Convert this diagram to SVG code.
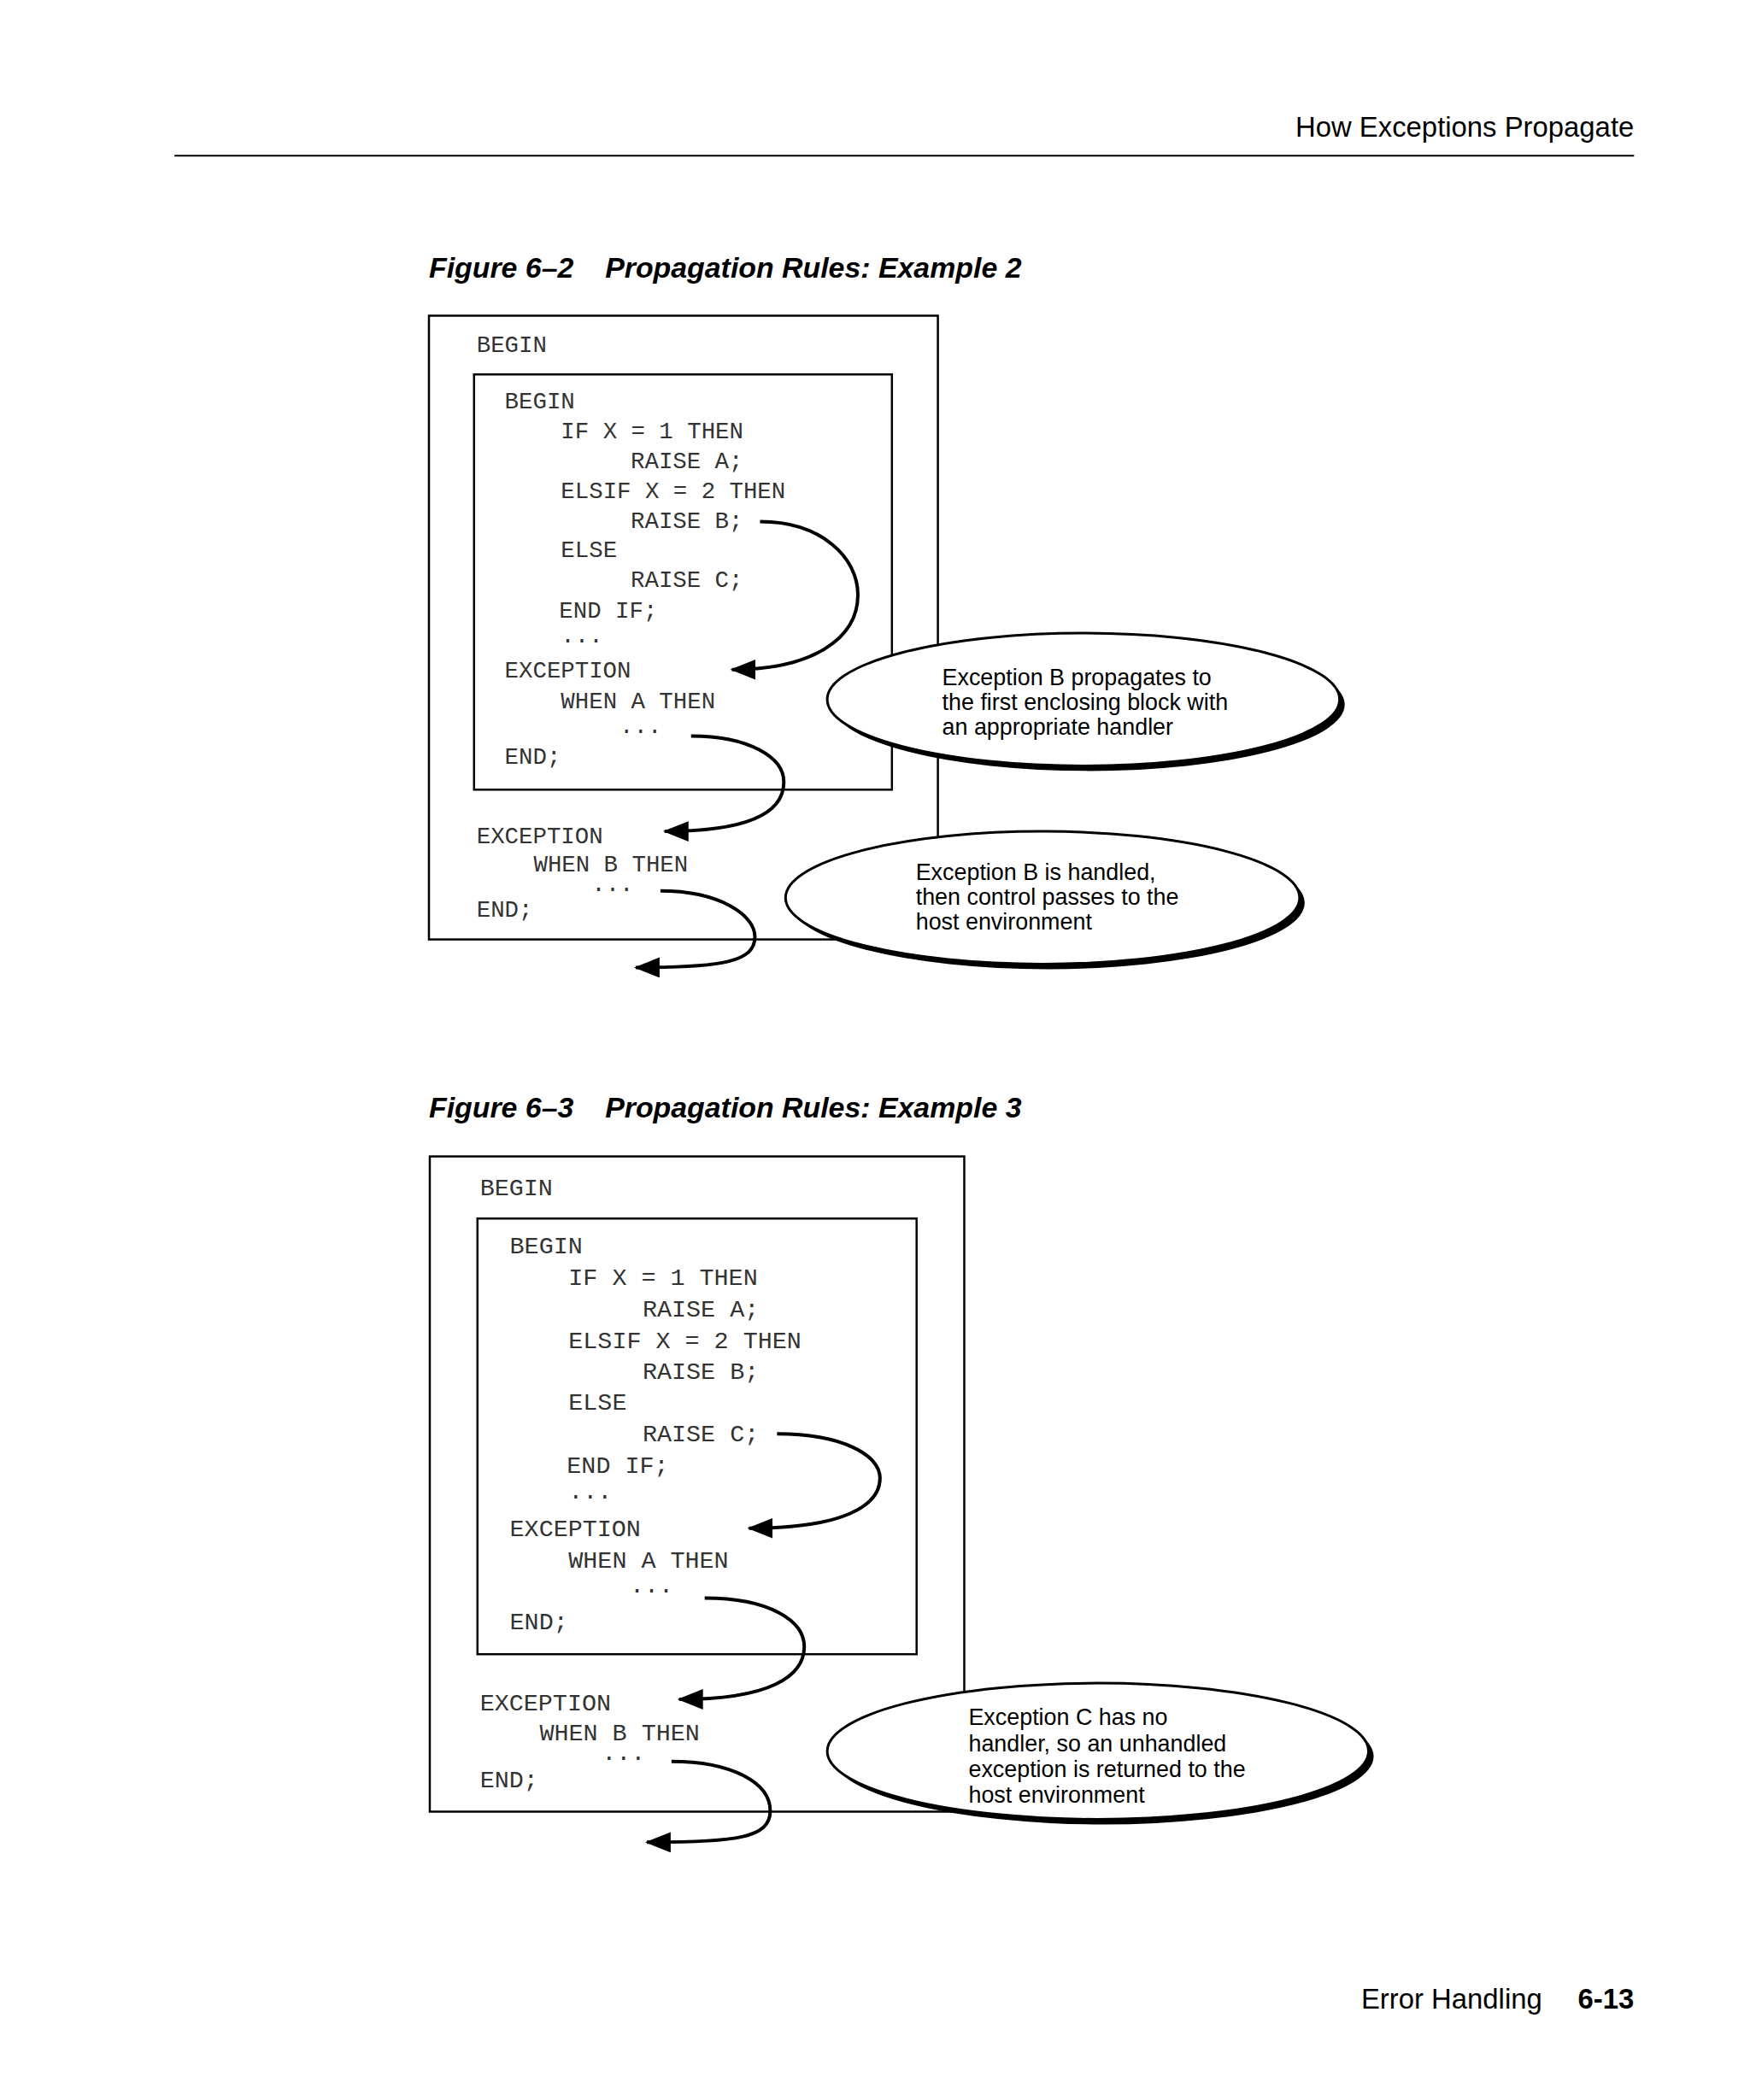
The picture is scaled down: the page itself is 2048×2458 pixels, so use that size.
<svg xmlns="http://www.w3.org/2000/svg" width="2048" height="2458" viewBox="0 0 2048 2458">
<style>
.box{fill:none;stroke:#000;stroke-width:2.5}
.c1{font-family:"Liberation Mono",monospace;font-size:27.5px;fill:#333}
.c2{font-family:"Liberation Mono",monospace;font-size:28.5px;fill:#333}
.lbl{font-family:"Liberation Sans",Arial,sans-serif;font-size:27px;fill:#000}
.arr{fill:none;stroke:#000;stroke-width:4;marker-end:url(#ah)}
.sh{fill:#000}
.el{fill:#fff;stroke:#000;stroke-width:3}
.pg{font-family:"Liberation Sans",Arial,sans-serif;font-size:33px;fill:#000}
.cap{font-family:"Liberation Sans",Arial,sans-serif;font-size:34px;font-weight:bold;font-style:italic;fill:#000}
</style>
<defs>
<marker id="ah" markerUnits="userSpaceOnUse" markerWidth="32" markerHeight="26" refX="28" refY="12" orient="auto">
<path d="M0,0 L30,12 L0,24 Z" fill="#000"/>
</marker>
</defs>
<rect width="2048" height="2458" fill="#fff"/>
<g transform="scale(0.996)">
<g id="header">
<text class="pg" x="1920" y="161" text-anchor="end">How Exceptions Propagate</text>
<line x1="205" y1="183" x2="1920" y2="183" stroke="#000" stroke-width="2"/>
</g>
<g id="caption1"><text class="cap" x="504" y="326">Figure 6–2</text><text class="cap" x="711" y="326">Propagation Rules: Example 2</text></g>
<g id="fig1-outer">
<rect class="box" x="504" y="371" width="598" height="733"/>
<text class="c1" x="560" y="414">BEGIN</text>
<text class="c1" x="560" y="991">EXCEPTION</text>
<text class="c1" x="627" y="1024">WHEN B THEN</text>
<text class="c1" x="695" y="1047">...</text>
<text class="c1" x="560" y="1077">END;</text>
</g>
<g id="fig1-inner">
<rect class="box" x="557" y="440" width="491" height="488"/>
<text class="c1" x="593" y="480">BEGIN</text>
<text class="c1" x="659" y="515">IF X = 1 THEN</text>
<text class="c1" x="741" y="550">RAISE A;</text>
<text class="c1" x="659" y="585">ELSIF X = 2 THEN</text>
<text class="c1" x="741" y="620">RAISE B;</text>
<text class="c1" x="659" y="655">ELSE</text>
<text class="c1" x="741" y="690">RAISE C;</text>
<text class="c1" x="657" y="726">END IF;</text>
<text class="c1" x="659" y="755">...</text>
<text class="c1" x="593" y="796">EXCEPTION</text>
<text class="c1" x="659" y="832">WHEN A THEN</text>
<text class="c1" x="728" y="861">...</text>
<text class="c1" x="593" y="898">END;</text>
</g>
<g id="note1">
<ellipse class="sh" cx="1279" cy="828" rx="301" ry="78"/>
<ellipse class="el" cx="1273" cy="822" rx="301" ry="78"/>
<text class="lbl" x="1107" y="805">Exception B propagates to</text>
<text class="lbl" x="1107" y="834">the first enclosing block with</text>
<text class="lbl" x="1107" y="863">an appropriate handler</text>
</g>
<g id="note2">
<ellipse class="sh" cx="1231" cy="1061" rx="302" ry="78"/>
<ellipse class="el" cx="1225" cy="1055" rx="302" ry="78"/>
<text class="lbl" x="1076" y="1034">Exception B is handled,</text>
<text class="lbl" x="1076" y="1063">then control passes to the</text>
<text class="lbl" x="1076" y="1092">host environment</text>
</g>
<g id="caption2"><text class="cap" x="504" y="1313">Figure 6–3</text><text class="cap" x="711" y="1313">Propagation Rules: Example 3</text></g>
<g id="fig2-outer">
<rect class="box" x="505" y="1359" width="628" height="770"/>
<text class="c2" x="564" y="1405">BEGIN</text>
<text class="c2" x="564" y="2010">EXCEPTION</text>
<text class="c2" x="634" y="2045">WHEN B THEN</text>
<text class="c2" x="707" y="2068">...</text>
<text class="c2" x="564" y="2100">END;</text>
</g>
<g id="fig2-inner">
<rect class="box" x="561" y="1432" width="516" height="512"/>
<text class="c2" x="599" y="1473">BEGIN</text>
<text class="c2" x="668" y="1510">IF X = 1 THEN</text>
<text class="c2" x="755" y="1547">RAISE A;</text>
<text class="c2" x="668" y="1584">ELSIF X = 2 THEN</text>
<text class="c2" x="755" y="1620">RAISE B;</text>
<text class="c2" x="668" y="1657">ELSE</text>
<text class="c2" x="755" y="1694">RAISE C;</text>
<text class="c2" x="666" y="1731">END IF;</text>
<text class="c2" x="668" y="1761">...</text>
<text class="c2" x="599" y="1805">EXCEPTION</text>
<text class="c2" x="668" y="1842">WHEN A THEN</text>
<text class="c2" x="740" y="1872">...</text>
<text class="c2" x="599" y="1915">END;</text>
</g>
<g id="note3">
<ellipse class="sh" cx="1296" cy="2064" rx="318" ry="80"/>
<ellipse class="el" cx="1290" cy="2058" rx="318" ry="80"/>
<text class="lbl" x="1138" y="2027">Exception C has no</text>
<text class="lbl" x="1138" y="2058">handler, so an unhandled</text>
<text class="lbl" x="1138" y="2088">exception is returned to the</text>
<text class="lbl" x="1138" y="2118">host environment</text>
</g>
<g id="connectors">
<path class="arr" d="M893,613 C965,613 1008,655 1008,699 C1008,750 955,787 860,787"/>
<path class="arr" d="M812,865 C880,865 921,890 921,919 C921,955 880,977 781,977"/>
<path class="arr" d="M776,1047 C845,1047 887,1075 887,1101 C887,1130 850,1137 747,1137"/>
<path class="arr" d="M913,1685 C990,1685 1034,1710 1034,1737 C1034,1770 990,1796 880,1796"/>
<path class="arr" d="M828,1878 C905,1878 945,1905 945,1935 C945,1970 905,1997 798,1997"/>
<path class="arr" d="M789,2070 C860,2070 905,2095 905,2128 C905,2160 865,2165 760,2165"/>
</g>
<g id="footer">
<text class="pg" x="1812" y="2360" text-anchor="end">Error Handling</text>
<text class="pg" x="1920" y="2360" text-anchor="end" font-weight="bold">6-13</text>
</g>
</g>
</svg>
